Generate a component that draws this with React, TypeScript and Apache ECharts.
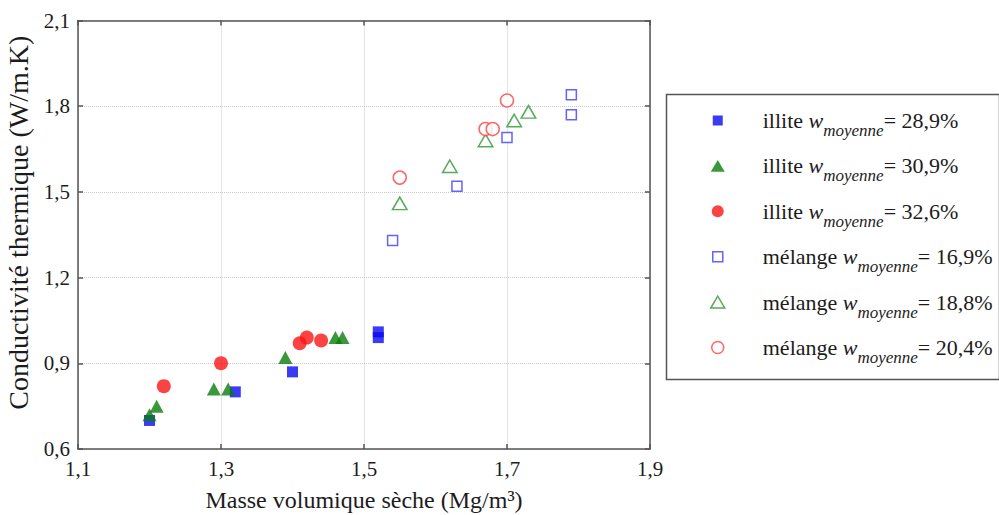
import React, { useEffect, useRef } from "react";
import * as echarts from "echarts";

const xTicks = [1.1, 1.3, 1.5, 1.7, 1.9];
const yTicks = [0.6, 0.9, 1.2, 1.5, 1.8, 2.1];

const illite289X = [1.2, 1.32, 1.4, 1.52, 1.52];
const illite289Y = [0.7, 0.8, 0.87, 1.01, 0.99];

const illite309X = [1.2, 1.21, 1.29, 1.31, 1.39, 1.46, 1.47];
const illite309Y = [0.72, 0.75, 0.81, 0.81, 0.92, 0.99, 0.99];

const illite326X = [1.22, 1.3, 1.41, 1.42, 1.44];
const illite326Y = [0.82, 0.9, 0.97, 0.99, 0.98];

const melange169X = [1.54, 1.63, 1.7, 1.79, 1.79];
const melange169Y = [1.33, 1.52, 1.69, 1.77, 1.84];

const melange188X = [1.55, 1.62, 1.67, 1.71, 1.73];
const melange188Y = [1.46, 1.59, 1.68, 1.75, 1.78];

const melange204X = [1.55, 1.67, 1.68, 1.7];
const melange204Y = [1.55, 1.72, 1.72, 1.82];

const seriesNames = [
  "illite 28,9%",
  "illite 30,9%",
  "illite 32,6%",
  "mélange 16,9%",
  "mélange 18,8%",
  "mélange 20,4%",
];
const legendPrefix = ["illite ", "illite ", "illite ", "mélange ", "mélange ", "mélange "];
const legendValue = ["= 28,9%", "= 30,9%", "= 32,6%", "= 16,9%", "= 18,8%", "= 20,4%"];

const FONT = "'Liberation Serif', 'Times New Roman', serif";
const TXT = "#1c1c1c";
const AX = "#555555";

function pairs(xs: number[], ys: number[]) {
  return xs.map((x, i) => [x, ys[i]]);
}

const SQ_ICON = "path://M0,0M14,14M2,2L12,2L12,12L2,12Z";
const TRI_ICON = "path://M0,0M14,14M0,12.9L7,1.1L14,12.9Z";
const CIR_ICON = "path://M0,0M14,14M1,7A6,6,0,1,0,13,7A6,6,0,1,0,1,7Z";

export default function App() {
  const ref = useRef<HTMLDivElement>(null);
  useEffect(() => {
    document.body.style.margin = "0";
    if (!ref.current) return;
    const chart = echarts.init(ref.current, null, { renderer: "svg" });

    const fmt = (v: number) => v.toFixed(1).replace(".", ",");

    const styles = [
      { symbol: "rect", size: 11, itemStyle: { color: "#0a0af0" }, icon: SQ_ICON, legendStyle: { color: "#0a0af0", borderWidth: 0 } },
      { symbol: "triangle", size: [14, 13], itemStyle: { color: "#0a7d0a" }, icon: TRI_ICON, legendStyle: { color: "#0a7d0a", borderWidth: 0 } },
      { symbol: "circle", size: 14, itemStyle: { color: "#fa1414" }, icon: CIR_ICON, legendStyle: { color: "#fa1414", borderWidth: 0 } },
      { symbol: "rect", size: 10, itemStyle: { color: "#ffffff", borderColor: "#3c3cff", borderWidth: 1.5 }, icon: SQ_ICON, legendStyle: { color: "#ffffff", borderColor: "#3c3cff", borderWidth: 1.5 } },
      { symbol: "triangle", size: [14.5, 12.5], itemStyle: { color: "#ffffff", borderColor: "#2e962e", borderWidth: 1.5 }, icon: TRI_ICON, legendStyle: { color: "#ffffff", borderColor: "#2e962e", borderWidth: 1.5 } },
      { symbol: "circle", size: 13, itemStyle: { color: "#ffffff", borderColor: "#ff4040", borderWidth: 1.5 }, icon: CIR_ICON, legendStyle: { color: "#ffffff", borderColor: "#ff4040", borderWidth: 1.5 } },
    ];

    const datasets = [
      pairs(illite289X, illite289Y),
      pairs(illite309X, illite309Y),
      pairs(illite326X, illite326Y),
      pairs(melange169X, melange169Y),
      pairs(melange188X, melange188Y),
      pairs(melange204X, melange204Y),
    ];

    const borderAxisCommon = {
      axisLine: { show: true, lineStyle: { color: AX, width: 1.5 } },
      axisTick: { show: true, inside: true, length: 5, lineStyle: { color: AX, width: 1.5 } },
      axisLabel: { show: false },
      splitLine: { show: false },
    };

    chart.setOption({
      animation: false,
      backgroundColor: "#ffffff",
      textStyle: { fontFamily: FONT },
      grid: { left: 78, right: 349, top: 20.5, bottom: 66, containLabel: false, outerBoundsMode: "none" },
      xAxis: [
        {
          type: "value",
          min: xTicks[0],
          max: xTicks[xTicks.length - 1],
          interval: 0.2,
          position: "bottom",
          axisLine: { show: true, lineStyle: { color: AX, width: 1.5 } },
          axisTick: { show: true, inside: true, length: 5, lineStyle: { color: AX, width: 1.5 } },
          axisLabel: { fontSize: 21, fontFamily: FONT, color: TXT, margin: 9, formatter: fmt },
          splitLine: { show: true, lineStyle: { color: "#c9c9c9", type: "dotted", width: 1 } },
          name: "Masse volumique sèche (Mg/m³)",
          nameLocation: "middle",
          nameGap: 51,
          nameTextStyle: {
            fontSize: 24,
            fontFamily: FONT,
            color: TXT,
            lineHeight: 24,
            verticalAlign: "middle",
          },
        },
        {
          type: "value",
          min: xTicks[0],
          max: xTicks[xTicks.length - 1],
          interval: 0.2,
          position: "top",
          ...borderAxisCommon,
        },
      ],
      yAxis: [
        {
          type: "value",
          min: yTicks[0],
          max: yTicks[yTicks.length - 1],
          interval: 0.3,
          position: "left",
          axisLine: { show: true, lineStyle: { color: AX, width: 1.5 } },
          axisTick: { show: true, inside: true, length: 5, lineStyle: { color: AX, width: 1.5 } },
          axisLabel: { fontSize: 21, fontFamily: FONT, color: TXT, margin: 8, formatter: fmt },
          splitLine: { show: true, lineStyle: { color: "#c9c9c9", type: "dotted", width: 1 } },
          name: "Conductivité thermique (W/m.K)",
          nameLocation: "middle",
          nameGap: 34,
          nameTextStyle: { fontSize: 28, fontFamily: FONT, color: TXT, lineHeight: 28, padding: [0, 0, 0, 24] },
        },
        {
          type: "value",
          min: yTicks[0],
          max: yTicks[yTicks.length - 1],
          interval: 0.3,
          position: "right",
          ...borderAxisCommon,
        },
      ],
      legend: {
        orient: "vertical",
        left: 664,
        top: 92,
        padding: [10, 5, 8, 46],
        itemGap: 8.4,
        itemWidth: 14,
        itemHeight: 14,
        data: seriesNames.map((n, i) => ({
          name: n,
          icon: styles[i].icon,
          itemStyle: styles[i].legendStyle,
        })),
        formatter: (name: string) => {
          const i = seriesNames.indexOf(name);
          return `{lead|${legendPrefix[i]}}{w|w}{sub|moyenne}{eq|${legendValue[i]}}`;
        },
        textStyle: {
          fontFamily: FONT,
          color: TXT,
          rich: {
            lead: { fontSize: 22, fontFamily: FONT, color: TXT, lineHeight: 26, padding: [0, 0, 0, 33] },
            w: { fontSize: 22, fontFamily: FONT, fontStyle: "italic", color: TXT, lineHeight: 26 },
            sub: { fontSize: 17, fontFamily: FONT, fontStyle: "italic", color: TXT, lineHeight: 20, padding: [20, 0, 0, 0] },
            eq: { fontSize: 22, fontFamily: FONT, color: TXT, lineHeight: 26 },
          },
        },
      },
      graphic: [
        {
          type: "rect",
          left: 664,
          top: 92,
          shape: { width: 333, height: 285 },
          style: { fill: "none", stroke: AX, lineWidth: 1.5 },
          z: -1,
        },
      ],
      series: seriesNames.map((n, i) => ({
        name: n,
        type: "scatter",
        xAxisIndex: 0,
        yAxisIndex: 0,
        symbol: styles[i].symbol,
        symbolSize: styles[i].size,
        itemStyle: styles[i].itemStyle,
        data: datasets[i],
        emphasis: { disabled: true },
      })),
    });

    return () => chart.dispose();
  }, []);

  return (
    <div
      ref={ref}
      style={{ position: "absolute", left: 0, top: 0, width: 999, height: 515 }}
    />
  );
}
